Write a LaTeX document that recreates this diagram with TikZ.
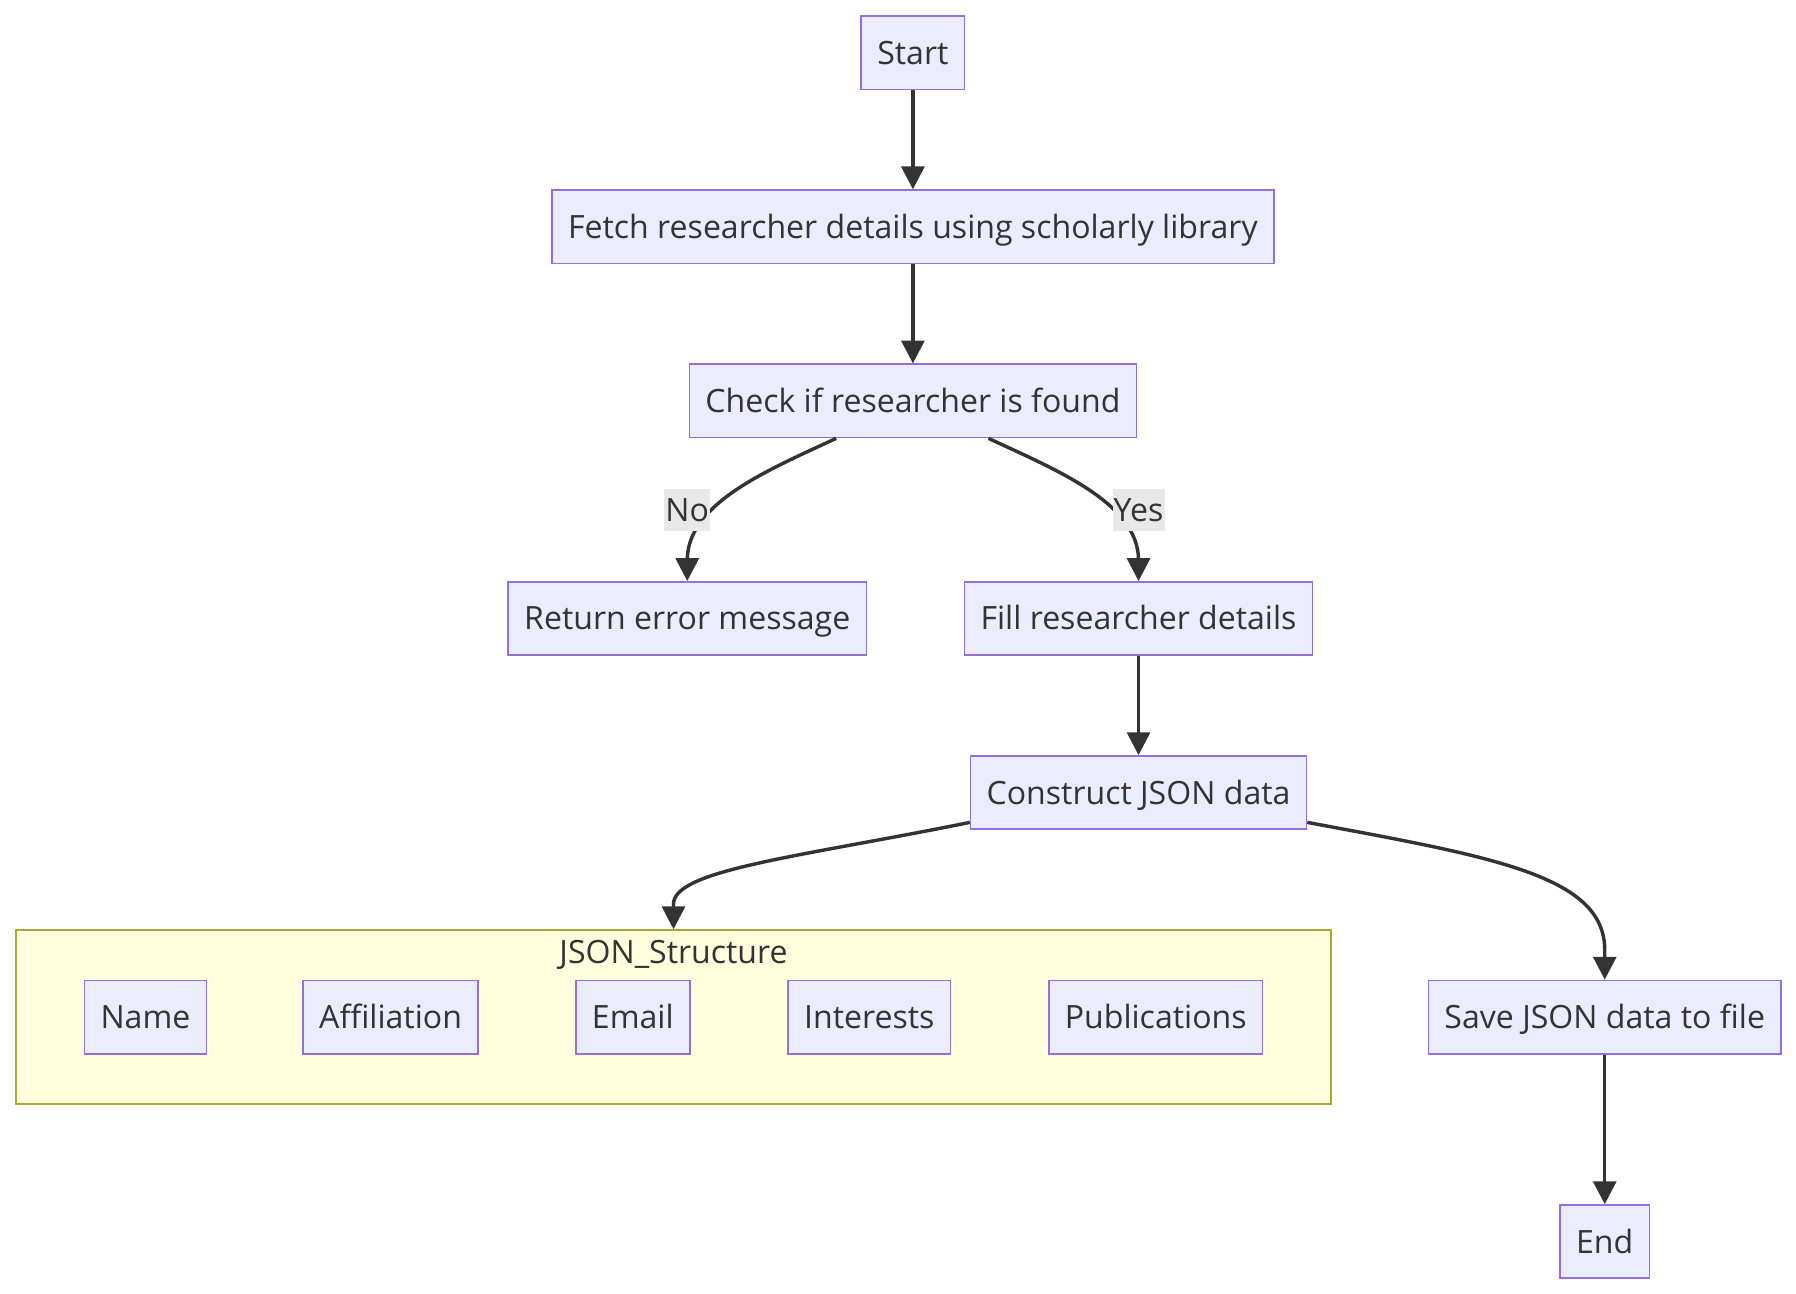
\documentclass[tikz,border=0pt]{standalone}
\usepackage{fontspec}
\setmainfont{Open Sans}
\usetikzlibrary{
    arrows.meta,
    calc
}
\definecolor{boxfill}{HTML}{ECECFF}
\definecolor{boxline}{HTML}{9370DB}
\definecolor{groupfill}{HTML}{FFFFDE}
\definecolor{groupline}{HTML}{AAAA33}
\definecolor{edgecol}{HTML}{333333}
\definecolor{labelfill}{HTML}{E8E8E8}
\tikzset {
    caption/.style = {text = edgecol, text height = 13pt, text depth = 3pt},
    process/.style = {
        caption, draw = boxline, fill = boxfill, line width = 0.7pt,
        minimum height = 32pt, inner xsep = 7pt
    },
    group/.style = {
        draw = groupline, fill = groupfill, line width = 0.7pt,
        minimum width = 574pt, minimum height = 76pt
    },
    flow/.style = {
        draw = edgecol, line width = 1.5pt,
        arrows = {-Triangle[length = 10pt, width = 10pt]}
    },
    edge text/.style = {
        caption, fill = labelfill, inner xsep = 0.5pt, inner ysep = 1.25pt
    }
}

\begin{document}
\begin{tikzpicture}[x = 0.5pt, y = -0.5pt, font = \fontsize{14pt}{16pt}\selectfont]
            \useasboundingbox (0, 0) rectangle (1568, 1129.7);
            \node (start) [process] at (797, 46) {Start};
            \node (fetch) [process] at (797, 198) {Fetch researcher details using scholarly library};
            \node (check) [process] at (797, 350) {Check if researcher is found};
            \node (error) [process] at (600, 540) {Return error message};
            \node (fill) [process] at (994, 540) {Fill researcher details};
            \node (build) [process] at (994, 692) {Construct JSON data};
            \node (json) [group] at (588, 888) {};
            \node (jsontitle) [caption] at ($ (json.north) + (0, 20) $) {JSON\_Structure};
            \node (name) [process] at (127, 888) {Name};
            \node (affil) [process] at (341, 888) {Affiliation};
            \node (email) [process] at (552.5, 888) {Email};
            \node (interests) [process] at (759, 888) {Interests};
            \node (pubs) [process] at (1009, 888) {Publications};
            \node (save) [process] at (1401, 888) {Save JSON data to file};
            \node (end) [process] at (1401, 1084) {End};
            \draw [flow] (start) -- (fetch);
            \draw [flow] (fetch) -- (check);
            \draw [flow] ($ (check.south) + (-67, 0) $) .. controls +(-60, 28) and +(0, -50) .. ($ (error.north) + (0, -18) $) -- (error.north);
            \draw [flow] ($ (check.south) + (66, 0) $) .. controls +(60, 28) and +(0, -50) .. ($ (fill.north) + (0, -18) $) -- (fill.north);
            \node (no) [edge text] at ($ (error.north) + (0, -62) $) {No};
            \node (yes) [edge text] at ($ (fill.north) + (0, -62) $) {Yes};
            \draw [flow] (fill) -- (build);
            \draw [flow] ($ (build.west) + (0, 26) $) .. controls +(-148, 30) and +(0, -30) .. ($ (json.north) + (0, -22) $) -- (json.north);
            \draw [flow] ($ (build.east) + (0, 26) $) .. controls +(161, 30) and +(0, -65) .. ($ (save.north) + (0, -26) $) -- (save.north);
            \draw [flow] (save) -- (end);
        \end{tikzpicture}
\end{document}
